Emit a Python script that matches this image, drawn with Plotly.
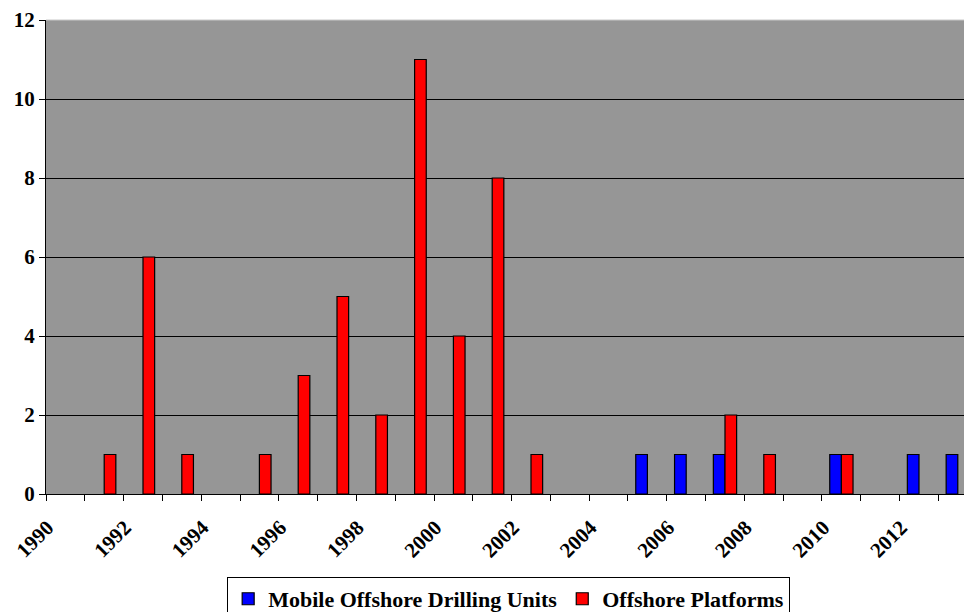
import plotly.graph_objects as go

years = list(range(1990, 2014))
mobile_units = [0, 0, 0, 0, 0, 0, 0, 0, 0, 0, 0, 0, 0, 0, 0, 1, 1, 1, 0, 0, 1, 0, 1, 1]
platforms = [0, 1, 6, 1, 0, 1, 3, 5, 2, 11, 4, 8, 1, 0, 0, 0, 0, 2, 1, 0, 1, 0, 0, 0]
tick_years = list(range(1990, 2014, 2))
y_ticks = [0, 2, 4, 6, 8, 10, 12]

serif = "Liberation Serif, Times New Roman, serif"


def hide_zero(vals):
    return [v if v else None for v in vals]


fig = go.Figure()
fig.add_trace(go.Bar(
    x=years, y=hide_zero(mobile_units), name="<b>Mobile Offshore Drilling Units</b>",
    marker=dict(color="#0000FF", line=dict(color="black", width=1.2)),
))
fig.add_trace(go.Bar(
    x=years, y=hide_zero(platforms), name="<b>Offshore Platforms</b>",
    marker=dict(color="#FF0000", line=dict(color="black", width=1.2)),
))

fig.update_layout(
    width=964, height=612,
    barmode="group", bargap=0.4, bargroupgap=0,
    plot_bgcolor="#969696", paper_bgcolor="white",
    margin=dict(l=46, r=0, t=20, b=118, autoexpand=False),
    font=dict(family=serif, color="black"),
    showlegend=True,
    legend=dict(
        orientation="h", x=0.504, xanchor="center", y=-0.175, yanchor="top",
        bordercolor="black", borderwidth=1, bgcolor="white",
        font=dict(family=serif, size=22, color="black"),
        itemwidth=30, tracegroupgap=0,
    ),
    xaxis=dict(
        range=[1989.5, 2013.16],
        tickmode="array", tickvals=tick_years,
        ticktext=[f"<b>{y}</b>" for y in tick_years],
        tickangle=-45, ticks="", showgrid=False, zeroline=False,
        showline=True, linecolor="black", linewidth=1,
        tickfont=dict(family=serif, size=21, color="black"),
        ticklabelshift=-18, ticklabelstandoff=12,
        minor=dict(tickvals=[1989.5 + k for k in range(25)], ticks="outside",
                   ticklen=6, tickcolor="black", tickwidth=1, showgrid=False),
    ),
    yaxis=dict(
        range=[0, 12], tickmode="array", tickvals=y_ticks,
        ticktext=[f"<b>{v}</b>" for v in y_ticks],
        ticks="outside", ticklen=6, tickcolor="black",
        showgrid=True, gridcolor="black", gridwidth=1,
        zeroline=False, showline=True, linecolor="black", linewidth=1,
        tickfont=dict(family=serif, size=21, color="black"),
    ),
    shapes=[dict(type="line", xref="paper", yref="paper", x0=0, x1=1, y0=1, y1=1,
                 line=dict(color="#c8c8c8", width=1))],
)

fig.write_html("out.html", config={"displayModeBar": False},
               post_script="document.body.style.margin='0px';")
